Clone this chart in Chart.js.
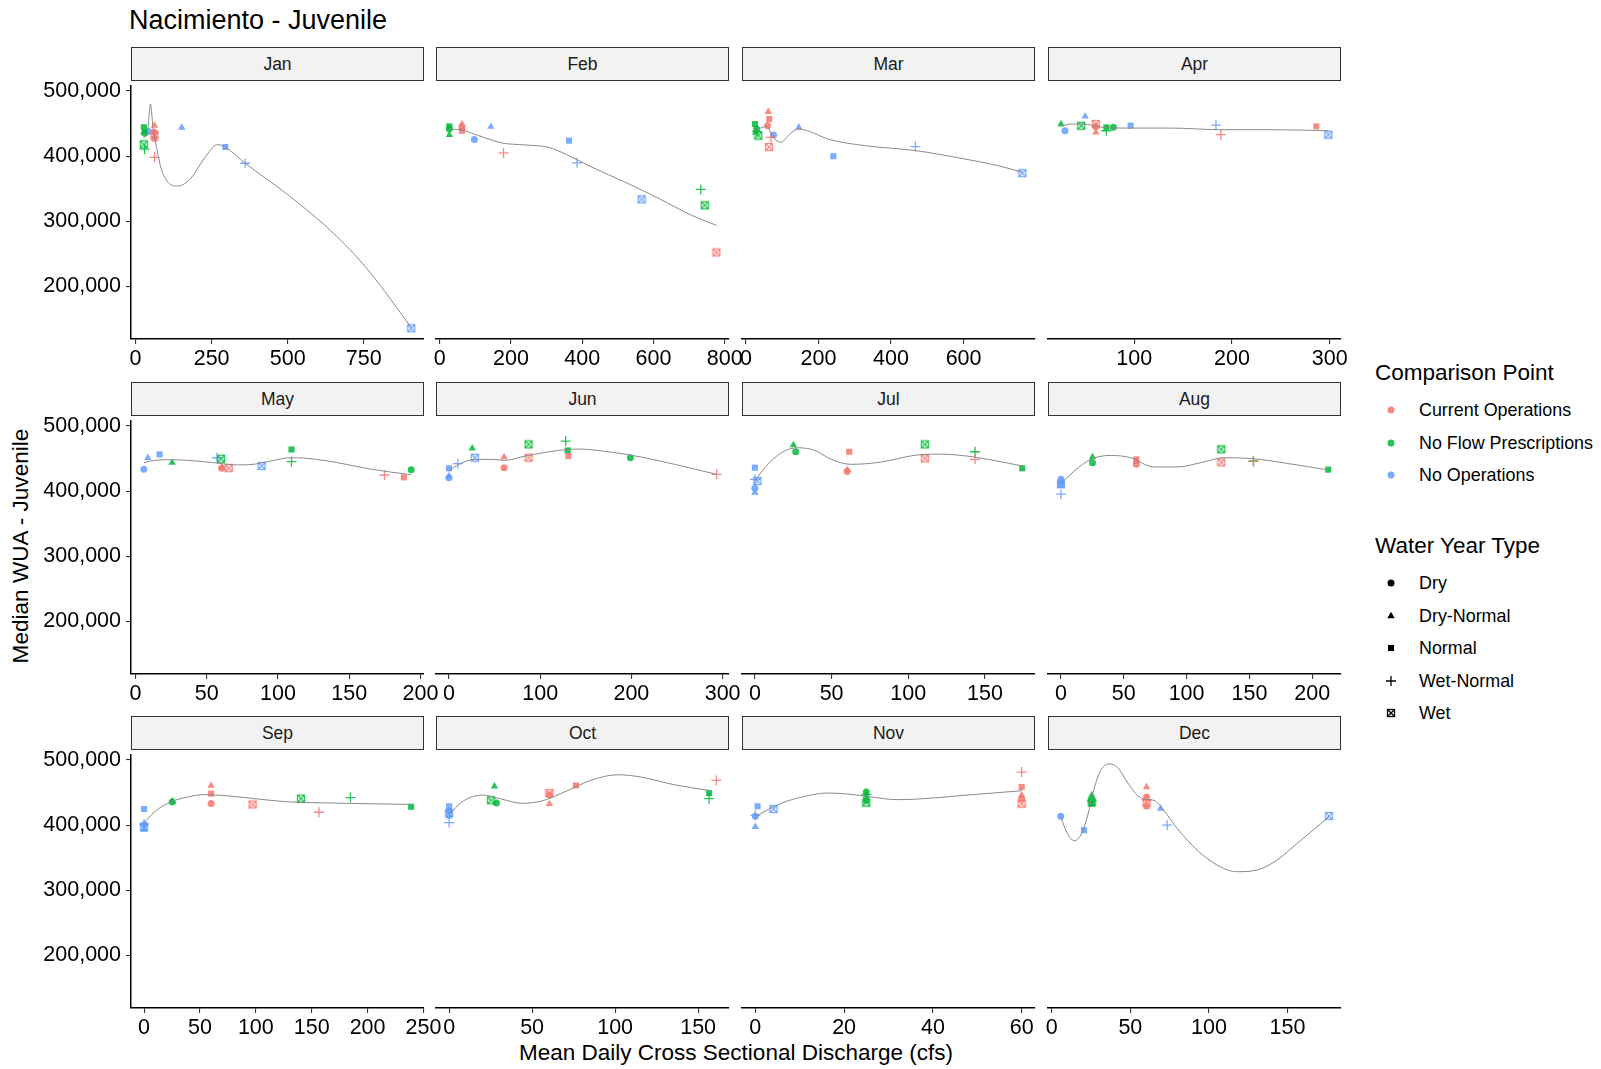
<!DOCTYPE html>
<html>
<head>
<meta charset="utf-8">
<title>Nacimiento - Juvenile</title>
<script src="https://cdn.jsdelivr.net/npm/chart.js@4.4.1/dist/chart.umd.min.js"></script>
<style>
  body { margin: 0; background: #fff; font-family: "Liberation Sans", Arial, sans-serif; }
  #wrap { position: relative; width: 1601px; height: 1069px; overflow: hidden; background: #fff; }
  #wrap canvas { position: absolute; }
  .txt { position: absolute; white-space: nowrap; color: #000; }
  .strip { position: absolute; box-sizing: border-box; border: 1px solid #333; background: #f2f2f2;
           text-align: center; font-size: 17.5px; line-height: 32px; color: #1a1a1a; }
</style>
</head>
<body>
<div id="wrap">
  <div class="txt" style="left:129px; top:5px; font-size:27px; line-height:30px;">Nacimiento - Juvenile</div>
  <div class="txt" style="left:-179px; top:533px; width:400px; text-align:center; font-size:22.6px; line-height:26px; transform:rotate(-90deg);">Median WUA - Juvenile</div>
  <div class="txt" style="left:336px; top:1040px; width:800px; text-align:center; font-size:22.5px; line-height:26px;">Mean Daily Cross Sectional Discharge (cfs)</div>
</div>

<script>
/* ---------------- DATA ---------------- */
const MONTHS = ["Jan", "Feb", "Mar", "Apr", "May", "Jun", "Jul", "Aug", "Sep", "Oct", "Nov", "Dec"];
const WATER_YEAR_TYPES = ["Dry", "Dry-Normal", "Normal", "Wet-Normal", "Wet"];
const COMPARISONS = ["Current Operations", "No Flow Prescriptions", "No Operations"];

// one row per month, values in WATER_YEAR_TYPES order
const currentOpsX = [
  [62.2, 62.2, 62.2, 62.2, 62.2],
  [62.5, 62.5, 62.5, 179.2, 776.7],
  [59.5, 61.4, 64.1, 68.7, 63.2],
  [60.6, 60.6, 286.4, 188.6, 60.6],
  [60.5, 60.5, 188.4, 174.8, 65.4],
  [60.4, 60.4, 130.9, 293.4, 87.3],
  [60.2, 60.2, 61.5, 143.5, 110.8],
  [60, 60, 60, 153.2, 127.6],
  [60, 60, 60, 156.5, 97.1],
  [60.4, 60.4, 76.4, 161, 60.4],
  [60, 60, 60, 60, 60],
  [60.3, 60.3, 60.3, 60.3, 60.3]
];
const currentOpsY = [
  [436600, 446600, 426600, 398000, 431600],
  [439000, 444100, 434000, 400500, 250100],
  [441600, 462700, 451600, 424100, 409500],
  [440000, 431600, 440600, 428000, 444100],
  [435100, 436500, 421000, 424600, 435100],
  [431100, 447100, 448600, 421000, 446100],
  [425100, 427600, 455100, 443600, 445100],
  [436100, 440000, 443600, 440500, 439100],
  [433100, 460700, 448100, 419600, 431600],
  [441000, 427600, 455600, 463200, 444100],
  [435600, 440600, 453100, 475700, 428100],
  [438100, 453100, 424100, 434000, 429000]
];
const noFlowX = [
  [30, 27.3, 27.3, 29.5, 27.3],
  [27.1, 27.1, 27.1, 732.8, 744],
  [29.3, 26.6, 24.7, 30, 33.9],
  [78.6, 25, 71.5, 71.5, 45.7],
  [193.5, 25.7, 109.5, 109.5, 60],
  [198.9, 25.5, 130.2, 128, 87.3],
  [26.6, 25.1, 174.3, 143.5, 110.8],
  [25.1, 25.1, 212.7, 153.2, 127.6],
  [25.2, 25.2, 239, 184.7, 140.4],
  [28.5, 27.3, 156.6, 156.6, 25.3],
  [25, 25, 25, 25, 25],
  [25.4, 25.4, 25.4, 25.4, 25.4]
];
const noFlowY = [
  [435000, 436600, 444100, 410500, 418000],
  [436600, 427600, 440600, 345400, 321300],
  [436600, 431600, 444100, 433000, 426600],
  [439100, 444100, 439100, 434000, 441600],
  [432600, 443600, 463700, 445100, 449600],
  [446100, 460200, 457100, 471200, 466200],
  [455100, 465200, 430100, 455100, 466200],
  [438600, 447100, 428100, 441100, 458700],
  [435500, 436600, 428100, 442100, 440600],
  [429100, 454100, 444100, 435600, 433100],
  [445600, 440600, 433100, 441600, 429600],
  [434000, 440600, 428000, 432000, 430000]
];
const noOpsX = [
  [42.6, 151.7, 294.8, 360.3, 906],
  [97.1, 143.8, 363.1, 385.5, 566.6],
  [76, 145.6, 240.9, 467.2, 762.1],
  [29, 49.7, 96.3, 183.6, 298.7],
  [5.8, 8.6, 16.8, 57.2, 88.5],
  [0, 0, 0, 9.8, 28.4],
  [0, 0, 0, 0, 1.7],
  [0, 0, 0, 0, 0],
  [0, 0, 0, 0, 0],
  [0, 0, 0, 0, 0],
  [0, 0, 0.5, 0, 4.1],
  [5.7, 69.2, 20.5, 73.4, 176.3]
];
const noOpsY = [
  [437600, 443600, 414000, 389000, 135800],
  [420600, 440100, 419000, 385500, 330300],
  [427600, 439100, 395500, 410000, 369900],
  [434000, 455600, 441600, 442600, 428000],
  [433600, 451100, 456100, 451100, 438600],
  [416000, 418500, 430100, 437100, 446100],
  [400000, 393500, 431100, 413500, 411000],
  [413500, 410000, 405000, 391000, 406000],
  [400500, 393000, 424600, 401500, 397000],
  [416500, 409000, 424000, 399500, 414000],
  [409000, 393000, 424000, 410500, 420000],
  [409000, 420600, 388000, 395500, 409500]
];

// smooth (loess) curve
const smoothX = [
  [27.3, 40, 49, 57, 67.7, 84, 106, 138.6, 182, 226, 269.6, 302, 360, 499, 662.7, 771.8, 906],
  [27, 62.5, 109, 174.6, 240, 305, 352, 426.6, 520, 613, 706.7, 776.7],
  [24.7, 56.8, 75, 96.2, 121, 143.8, 235, 327, 467, 601.8, 693, 762],
  [25, 35.2, 48.7, 62, 75.9, 103, 137, 188, 239, 298.7],
  [5.8, 13.3, 25, 36.6, 48.3, 60, 71.7, 83.3, 95, 109, 118.3, 141.7, 165, 193.5],
  [0, 10.9, 29.1, 47.3, 60.4, 83.6, 120, 141.8, 174.5, 210.9, 247.3, 293.4],
  [0, 6.5, 17.3, 28.1, 39, 49.8, 62.8, 82.3, 103.9, 119, 136.4, 158, 174.3],
  [0, 10.6, 23.8, 39.6, 55.5, 74, 92.5, 113.6, 129.5, 153.2, 179.7, 212.7],
  [0, 9.5, 24.3, 39.2, 54, 68.9, 98.6, 128.3, 158, 187.6, 239],
  [0, 8, 20, 29.9, 43.9, 55.9, 69.8, 85.8, 101.7, 115.7, 135.7, 156.6],
  [0, 6, 11.2, 16.4, 20.9, 26.1, 32.1, 38, 47, 60],
  [5.7, 9.9, 14.6, 18.4, 22.6, 26.9, 31.1, 36.4, 41.7, 48, 54.4, 60.7, 65, 71.3, 79.8, 92.5, 105.2, 117.9, 130.6, 143.3, 156, 168.7, 176.3]
];
const smoothY = [
  [428000, 440000, 480000, 445000, 416500, 381000, 360000, 354000, 366000, 396500, 417500, 411500, 389000, 341300, 276200, 221000, 137000],
  [436600, 435000, 426600, 415500, 412500, 409000, 399000, 379000, 356400, 332300, 306300, 291200],
  [434000, 440600, 424100, 416500, 429000, 436600, 420000, 411500, 404000, 391500, 381500, 371400],
  [440600, 444100, 444000, 440600, 438100, 438000, 438000, 435600, 435600, 434000],
  [443600, 447100, 448100, 447100, 445100, 442100, 440100, 441100, 446100, 451100, 450600, 443600, 433600, 425100],
  [426100, 436100, 443600, 443600, 442100, 448600, 457100, 459200, 455100, 447100, 436100, 421000],
  [411000, 431100, 453600, 461200, 457100, 443600, 436100, 439600, 449600, 451600, 449100, 441100, 433600],
  [407000, 426100, 443600, 449600, 446100, 432100, 432100, 439600, 446100, 444600, 437600, 427600],
  [403000, 420600, 435600, 443100, 446600, 445600, 440600, 435600, 434100, 433100, 431600],
  [412000, 431100, 441100, 436100, 428600, 432100, 446100, 463700, 471700, 468200, 456600, 448100],
  [409000, 429100, 439100, 444100, 442600, 438100, 434100, 435600, 440600, 447600],
  [408000, 383000, 372000, 380500, 408000, 450600, 478200, 488200, 483200, 460700, 440600, 434100, 433100, 418000, 390500, 357900, 335300, 325300, 327800, 342800, 367900, 392900, 408000]
];

// free x scales per month, shared y scale
const xMin = [-15, -10.4, -11, 11.7, -3.2, -14.2, -8.4, -10.3, -11.7, -7.9, -3, -2.4];
const xMax = [948, 812, 797, 311.6, 202.5, 307, 182.6, 222.9, 250.5, 168.6, 63, 184];
const xTicks = [
  [0, 250, 500, 750], [0, 200, 400, 600, 800], [0, 200, 400, 600], [100, 200, 300],
  [0, 50, 100, 150, 200], [0, 100, 200, 300], [0, 50, 100, 150], [0, 50, 100, 150, 200],
  [0, 50, 100, 150, 200, 250], [0, 50, 100, 150], [0, 20, 40, 60], [0, 50, 100, 150]
];
const yTicks = [200000, 300000, 400000, 500000];
const Y_MIN = 119400;
const Y_MAX = 507600;

/* ---------------- STYLE ---------------- */
const FONT = "'Liberation Sans', Arial, sans-serif";
const COLORS = ["rgba(248,118,109,0.85)", "rgba(0,186,56,0.85)", "rgba(97,156,255,0.85)"];
const PANEL_LEFT = [131, 436, 742, 1048];
const PANEL_TOP = [82, 417, 751];
const PANEL_W = 293;
const PANEL_H = 257;
const PAD_T = 14, PAD_R = 26, PAD_B = 4, X_AXIS_H = 32, PAD_L = 22;

function wetSymbol(color) {
  const c = document.createElement("canvas");
  c.width = 10; c.height = 10;
  const g = c.getContext("2d");
  g.strokeStyle = color;
  g.lineWidth = 1.3;
  g.strokeRect(1.5, 1.5, 7, 7);
  g.beginPath();
  g.moveTo(1.5, 1.5); g.lineTo(8.5, 8.5);
  g.moveTo(8.5, 1.5); g.lineTo(1.5, 8.5);
  g.stroke();
  return c;
}

function shapeFor(typeIdx, color) {
  switch (WATER_YEAR_TYPES[typeIdx]) {
    case "Dry": return { pointStyle: "circle", radius: 3.5, border: 0 };
    case "Dry-Normal": return { pointStyle: "triangle", radius: 4.3, border: 0 };
    case "Normal": return { pointStyle: "rect", radius: 4.3, border: 0 };
    case "Wet-Normal": return { pointStyle: "cross", radius: 5, border: 1.3 };
    default: return { pointStyle: wetSymbol(color), radius: 5, border: 0 };
  }
}

const seriesX = [currentOpsX, noFlowX, noOpsX];
const seriesY = [currentOpsY, noFlowY, noOpsY];

/* ---------------- PANELS ---------------- */
const wrap = document.getElementById("wrap");

function axisCommon() {
  return {
    type: "linear",
    bounds: "data",
    grid: { display: true, drawOnChartArea: false, drawTicks: true, tickLength: 5, color: "#333", lineWidth: 1.1 },
    border: { display: true, color: "#000", width: 1.5 },
    ticks: { font: { family: FONT, size: 21.5 }, color: "#000", maxRotation: 0, autoSkip: false }
  };
}

function makePanel(i) {
  const row = Math.floor(i / 4), col = i % 4;
  const leftSpace = col === 0 ? PANEL_LEFT[0] : PAD_L;
  const w = leftSpace + PANEL_W + PAD_R;
  const h = PAD_T + PANEL_H + X_AXIS_H + PAD_B;

  const strip = document.createElement("div");
  strip.className = "strip";
  strip.style.left = PANEL_LEFT[col] + "px";
  strip.style.top = (PANEL_TOP[row] - 35) + "px";
  strip.style.width = PANEL_W + "px";
  strip.style.height = "34px";
  strip.textContent = MONTHS[i];
  wrap.appendChild(strip);

  const canvas = document.createElement("canvas");
  canvas.width = w; canvas.height = h;
  canvas.style.left = (PANEL_LEFT[col] - leftSpace) + "px";
  canvas.style.top = (PANEL_TOP[row] - PAD_T) + "px";
  canvas.style.width = w + "px"; canvas.style.height = h + "px";
  wrap.appendChild(canvas);

  const datasets = [{
    type: "line",
    data: smoothX[i].map((x, k) => ({ x, y: smoothY[i][k] })),
    borderColor: "#8a8a8a",
    borderWidth: 1,
    pointRadius: 0,
    fill: false,
    cubicInterpolationMode: "monotone"
  }];

  COMPARISONS.forEach((name, g) => {
    WATER_YEAR_TYPES.forEach((t, k) => {
      const s = shapeFor(k, COLORS[g]);
      datasets.push({
        label: name + " / " + t,
        data: [{ x: seriesX[g][i][k], y: seriesY[g][i][k] }],
        pointStyle: s.pointStyle,
        pointRadius: s.radius,
        backgroundColor: COLORS[g],
        borderColor: COLORS[g],
        borderWidth: s.border
      });
    });
  });

  const xAxis = axisCommon();
  Object.assign(xAxis, {
    min: xMin[i], max: xMax[i],
    afterBuildTicks: s => { s.ticks = xTicks[i].map(v => ({ value: v })); },
    afterFit: s => { s.height = X_AXIS_H; }
  });
  xAxis.ticks.padding = 2;
  xAxis.ticks.callback = v => String(v);

  const yAxis = axisCommon();
  Object.assign(yAxis, {
    min: Y_MIN, max: Y_MAX,
    display: col === 0,
    afterBuildTicks: s => { s.ticks = yTicks.map(v => ({ value: v })); },
    afterFit: s => { s.width = col === 0 ? PANEL_LEFT[0] : 0; }
  });
  yAxis.ticks.padding = 5;
  yAxis.ticks.callback = v => v.toLocaleString("en-US");

  new Chart(canvas, {
    type: "scatter",
    data: { datasets },
    options: {
      responsive: false,
      animation: false,
      devicePixelRatio: 1,
      events: [],
      layout: { padding: { left: col === 0 ? 0 : PAD_L, right: PAD_R, top: PAD_T, bottom: PAD_B } },
      plugins: { legend: { display: false }, tooltip: { enabled: false } },
      scales: { x: xAxis, y: yAxis }
    }
  });
}

/* ---------------- LEGEND ---------------- */
function makeLegend() {
  const addText = (text, left, cy, size, lh) => {
    const d = document.createElement("div");
    d.className = "txt";
    d.style.left = left + "px";
    d.style.top = (cy - lh / 2) + "px";
    d.style.fontSize = size + "px";
    d.style.lineHeight = lh + "px";
    d.textContent = text;
    wrap.appendChild(d);
  };
  const compY = [410, 443, 475];
  const typeY = [583, 616, 648, 681, 713];
  addText("Comparison Point", 1375, 373, 22.5, 26);
  addText("Water Year Type", 1375, 546, 22.5, 26);
  COMPARISONS.forEach((c, k) => addText(c, 1419, compY[k], 17.9, 22));
  WATER_YEAR_TYPES.forEach((t, k) => addText(t, 1419, typeY[k], 17.9, 22));

  const cv = document.createElement("canvas");
  const top = 395;
  cv.width = 24; cv.height = 330;
  cv.style.left = "1380px"; cv.style.top = top + "px";
  cv.style.width = "24px"; cv.style.height = "330px";
  wrap.appendChild(cv);
  const ctx = cv.getContext("2d");
  const draw = Chart.helpers.drawPoint;
  compY.forEach((y, k) => {
    ctx.fillStyle = COLORS[k]; ctx.strokeStyle = COLORS[k];
    draw(ctx, { pointStyle: "circle", radius: 3.5, borderWidth: 0, rotation: 0 }, 11, y - top);
  });
  typeY.forEach((y, k) => {
    const s = shapeFor(k, "#000");
    ctx.fillStyle = "#000"; ctx.strokeStyle = "#000"; ctx.lineWidth = s.border || 1;
    draw(ctx, { pointStyle: s.pointStyle, radius: s.radius, borderWidth: s.border, rotation: 0 }, 11, y - top);
  });
}

MONTHS.forEach((m, i) => makePanel(i));
makeLegend();
</script>
</body>
</html>
